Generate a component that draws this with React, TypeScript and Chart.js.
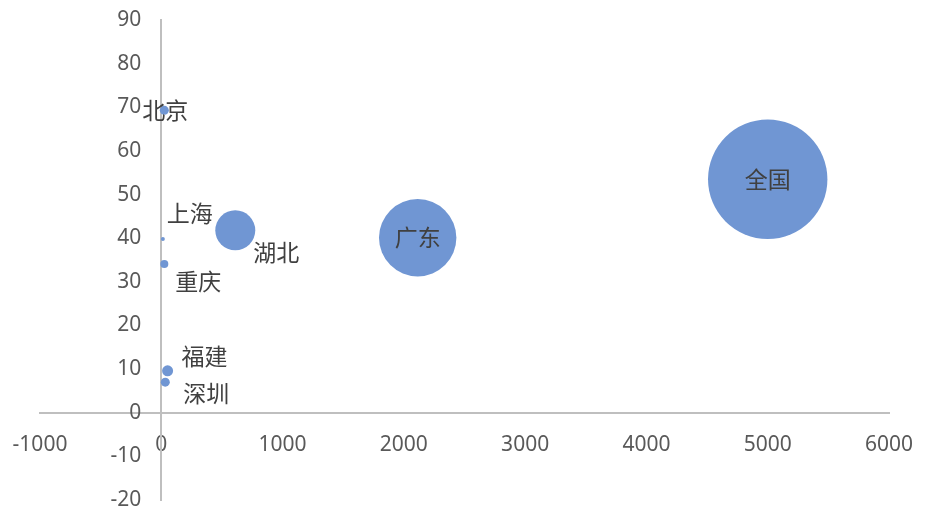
import React, { useEffect, useRef } from "react";
import { Chart, registerables } from "chart.js";

Chart.register(...registerables);

const cities = ["北京", "上海", "湖北", "重庆", "福建", "深圳", "广东", "全国"];
const xValues = [25, 13, 610, 25, 52, 33, 2114, 5000];
const yValues = [69.3, 39.8, 41.8, 34.1, 9.6, 7.0, 40.1, 53.5];
const bubbleSizes = [4.5, 2, 20, 4, 5.5, 4.5, 38.7, 59.7];

const xMin = -1000;
const xMax = 6000;
const xStep = 1000;
const yMin = -20;
const yMax = 90;
const yStep = 10;

// label offsets in px relative to bubble centres (style only)
const labelOffsets: [number, number][] = [
  [1, 0],
  [27, -26],
  [41, 22],
  [34, 17],
  [37, -15],
  [41, 11],
  [0, 0],
  [0, 0],
];

const TICK_FONT = '21px "Noto Sans", "Noto Sans CJK SC", sans-serif';

const labelPlugin = {
  id: "bubbleLabels",
  afterDatasetsDraw(chart: any) {
    const ctx = chart.ctx;
    const meta = chart.getDatasetMeta(0);
    ctx.save();
    ctx.font = '23px "Noto Sans CJK SC", "Noto Sans", sans-serif';
    ctx.fillStyle = "#404040";
    ctx.textAlign = "center";
    ctx.textBaseline = "middle";
    meta.data.forEach((el: any, i: number) => {
      const [dx, dy] = labelOffsets[i] || [0, 0];
      ctx.fillText(cities[i], el.x + dx, el.y + dy);
    });
    ctx.restore();
  },
};

// y tick labels placed beside the crossing vertical axis, using the y scale's own ticks
const yTickPlugin = {
  id: "yTicksBesideAxis",
  afterDraw(chart: any) {
    const ctx = chart.ctx;
    const ys = chart.scales.y;
    const xs = chart.scales.x;
    const ax = xs.getPixelForValue(0);
    ctx.save();
    ctx.font = TICK_FONT;
    ctx.fillStyle = "#595959";
    ctx.textAlign = "right";
    ctx.textBaseline = "middle";
    ys.ticks.forEach((t: any) => {
      ctx.fillText(String(t.value), ax - 20, ys.getPixelForValue(t.value));
    });
    ctx.restore();
  },
};

export default function App() {
  const ref = useRef<HTMLCanvasElement>(null);
  useEffect(() => {
    if (!ref.current) return;
    const data = cities.map((c, i) => ({ x: xValues[i], y: yValues[i], r: bubbleSizes[i] }));
    const tickFont = { family: '"Noto Sans", "Noto Sans CJK SC", sans-serif', size: 21 };
    const zeroFit = (s: any, horiz: boolean) => {
      if (horiz) s.height = 0;
      else s.width = 0;
      s.paddingLeft = 0;
      s.paddingRight = 0;
      s.paddingTop = 0;
      s.paddingBottom = 0;
    };
    const chart = new Chart(ref.current, {
      type: "bubble",
      data: {
        datasets: [
          {
            label: "bubbles",
            data,
            backgroundColor: "#7096D3",
            borderColor: "#7096D3",
            borderWidth: 0,
          },
        ],
      },
      plugins: [labelPlugin, yTickPlugin],
      options: {
        animation: false,
        responsive: false,
        maintainAspectRatio: false,
        layout: { autoPadding: false, padding: { left: 40, right: 36, top: 20, bottom: 10 } },
        plugins: { legend: { display: false }, tooltip: { enabled: false } },
        scales: {
          x: {
            type: "linear",
            min: xMin,
            max: xMax,
            position: { y: 0 } as any,
            ticks: {
              stepSize: xStep,
              color: "#595959",
              font: tickFont,
              padding: 20,
              maxRotation: 0,
              autoSkip: false,
              callback: (v: any) => String(v),
            },
            grid: { display: false, drawTicks: false },
            border: { display: true, color: "#BFBFBF", width: 2 },
            afterFit: (s: any) => zeroFit(s, true),
          },
          y: {
            type: "linear",
            min: yMin,
            max: yMax,
            position: { x: 0 } as any,
            ticks: { stepSize: yStep, display: false },
            grid: { display: false, drawTicks: false },
            border: { display: true, color: "#BFBFBF", width: 2 },
            afterFit: (s: any) => zeroFit(s, false),
          },
        },
      },
    });
    return () => chart.destroy();
  }, []);
  return (
    <div style={{ position: "fixed", left: 0, top: 0, width: 925, height: 510, background: "#fff" }}>
      <canvas ref={ref} width={925} height={510} style={{ width: 925, height: 510 }} />
    </div>
  );
}
